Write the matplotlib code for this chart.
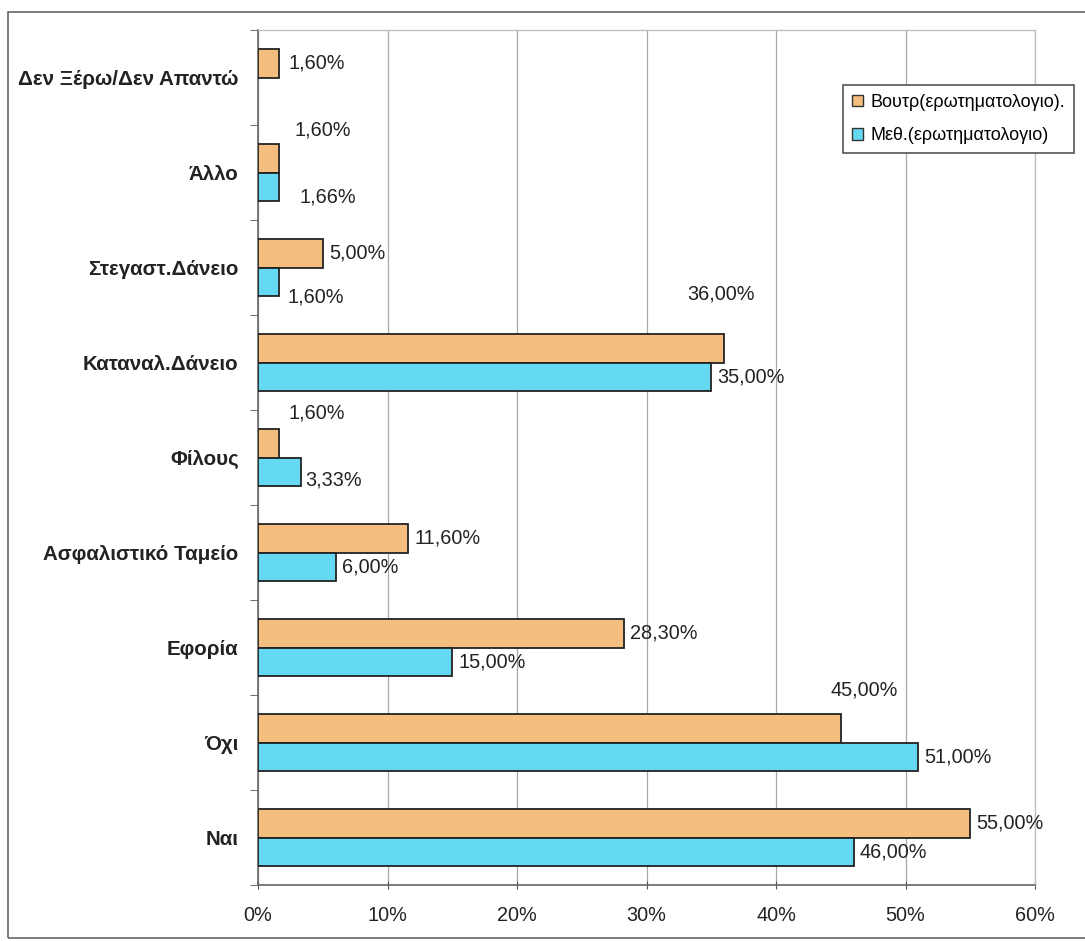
import numpy as np
import matplotlib
matplotlib.use('Agg')
import matplotlib.pyplot as plt
from matplotlib.patches import Patch, Rectangle

plt.rcParams['font.family'] = ['Liberation Sans', 'DejaVu Sans']

# categories listed bottom to top
categories = ['Ναι', 'Όχι', 'Εφορία', 'Ασφαλιστικό Ταμείο', 'Φίλους',
              'Καταναλ.Δάνειο', 'Στεγαστ.Δάνειο', 'Άλλο', 'Δεν Ξέρω/Δεν Απαντώ']
voutr = [55.0, 45.0, 28.3, 11.6, 1.6, 36.0, 5.0, 1.6, 1.6]
meth = [46.0, 51.0, 15.0, 6.0, 3.33, 35.0, 1.6, 1.66, np.nan]
series_names = ['Βουτρ(ερωτηματολογιο).', 'Μεθ.(ερωτηματολογιο)']
x_ticks = [0, 10, 20, 30, 40, 50, 60]

c_orange = '#F4BE7E'
c_cyan = '#66D9F2'
fs = 14.3

fig = plt.figure(figsize=(10.85, 9.41), dpi=100)
ax = fig.add_axes([258 / 1085, 1 - 885 / 941, 777 / 1085, 855 / 941])

y = np.arange(len(categories))
h = 0.3
ax.barh(y + h / 2, voutr, height=h, color=c_orange, edgecolor='#222222', linewidth=1.3, zorder=3)
ax.barh(y - h / 2, meth, height=h, color=c_cyan, edgecolor='#222222', linewidth=1.3, zorder=3)

# data labels; a few are shifted the way Excel placed them (pixels)
shift = {
    (0, 7): (16, 28), (1, 7): (20, -10),
    (1, 6): (9, -15),
    (0, 5): (-37, 54),
    (0, 4): (10, 30), (1, 4): (4, -8),
    (0, 1): (-10, 38),
    (0, 8): (10, 0),
}
for s, vals in enumerate([voutr, meth]):
    off = h / 2 if s == 0 else -h / 2
    for i, v in enumerate(vals):
        if np.isnan(v):
            continue
        dx, dy = shift.get((s, i), (6, 0))
        ax.annotate(f'{v:.2f}'.replace('.', ',') + '%', (v, i + off),
                    xytext=(dx, dy), textcoords='offset pixels',
                    ha='left', va='center', fontsize=fs, color='#222222', zorder=4)

ax.set_xlim(0, 60)
ax.set_ylim(-0.5, len(categories) - 0.5)
ax.set_xticks(x_ticks)
ax.set_xticklabels([f'{t}%' for t in x_ticks], fontsize=fs, color='#222222')
ax.tick_params(axis='x', length=6, direction='inout', color='#555555', pad=12)
ax.set_yticks(y)
ax.set_yticklabels(categories, fontsize=14.8, fontweight='bold', color='#222222')
ax.tick_params(axis='y', length=0, pad=14)
ax.set_yticks(np.arange(-0.5, len(categories), 1), minor=True)
ax.tick_params(axis='y', which='minor', length=6, color='#555555')
ax.xaxis.grid(True, color='#aaaaaa', linewidth=0.9, zorder=0)

for side in ['left', 'bottom']:
    ax.spines[side].set_color('#666666')
    ax.spines[side].set_linewidth(1.2)
for side in ['top', 'right']:
    ax.spines[side].set_color('#bbbbbb')
    ax.spines[side].set_linewidth(0.9)

handles = [Patch(facecolor=c_orange, edgecolor='#333333'),
           Patch(facecolor=c_cyan, edgecolor='#333333')]
leg = fig.legend(handles, series_names, loc='upper left',
                 bbox_to_anchor=(843 / 1085, 1 - 85 / 941), borderaxespad=0,
                 fontsize=13, handlelength=0.6, handleheight=0.6,
                 handletextpad=0.4, labelspacing=0.9, borderpad=0.5,
                 fancybox=False, framealpha=1, edgecolor='#555555')
leg.get_frame().set_linewidth(1.2)

# outer chart frame (scanned border)
fig.patches.append(Rectangle((8 / 1085, 1 - 938 / 941), 1.1, 926 / 941,
                             transform=fig.transFigure, fill=False,
                             edgecolor='#666666', linewidth=1.2))

fig.savefig('out.png', dpi=100)
